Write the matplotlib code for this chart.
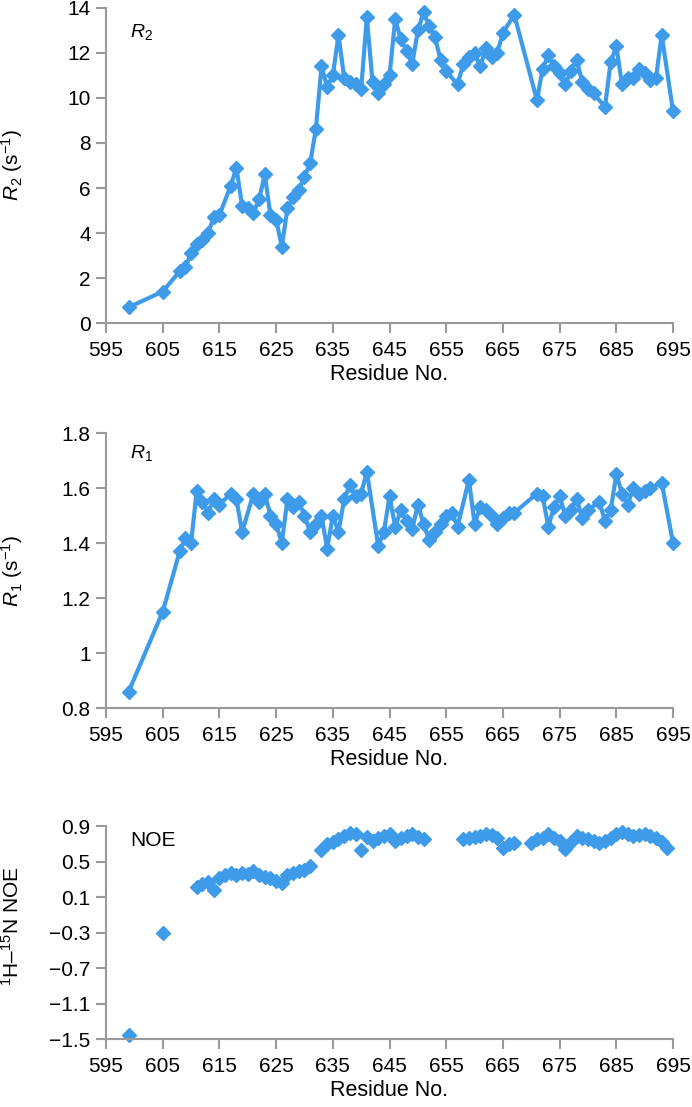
import matplotlib
matplotlib.use('Agg')
import matplotlib.pyplot as plt

# R2 data (residue, s^-1)
r2_res = [599, 605, 608, 609, 610, 611, 612, 613, 614, 615, 617, 618, 619, 620, 621,
          622, 623, 624, 625, 626, 627, 628, 629, 630, 631, 632, 633, 634, 635, 636,
          637, 638, 639, 640, 641, 642, 643, 644, 645, 646, 647, 648, 649, 650, 651,
          652, 653, 654, 655, 657, 658, 659, 660, 661, 662, 663, 664, 665, 667, 671,
          672, 673, 674, 675, 676, 677, 678, 679, 680, 681, 683, 684, 685, 686, 687,
          688, 689, 690, 691, 692, 693, 695]
r2_val = [0.7, 1.4, 2.3, 2.5, 3.1, 3.5, 3.7, 4.0, 4.7, 4.8, 6.1, 6.9, 5.2, 5.1, 4.9,
          5.5, 6.6, 4.8, 4.6, 3.4, 5.1, 5.6, 5.9, 6.5, 7.1, 8.6, 11.4, 10.5, 11.0, 12.8,
          10.9, 10.7, 10.6, 10.4, 13.6, 10.7, 10.2, 10.6, 11.0, 13.5, 12.6, 12.1, 11.5, 13.0, 13.8,
          13.2, 12.7, 11.7, 11.2, 10.6, 11.5, 11.8, 12.0, 11.4, 12.2, 11.8, 12.0, 12.9, 13.7, 9.9,
          11.3, 11.9, 11.4, 11.1, 10.6, 11.2, 11.7, 10.7, 10.4, 10.2, 9.6, 11.6, 12.3, 10.6, 10.9,
          10.9, 11.3, 11.1, 10.8, 10.9, 12.8, 9.4]

# R1 data
r1_res = [599, 605, 608, 609, 610, 611, 612, 613, 614, 615, 617, 618, 619, 621, 622,
          623, 624, 625, 626, 627, 628, 629, 630, 631, 632, 633, 634, 635, 636, 637,
          638, 639, 640, 641, 643, 644, 645, 646, 647, 648, 649, 650, 651, 652, 653,
          654, 655, 656, 657, 659, 660, 661, 662, 663, 664, 665, 666, 667, 671, 672,
          673, 674, 675, 676, 677, 678, 679, 680, 682, 683, 684, 685, 686, 687, 688,
          689, 690, 691, 693, 695]
r1_val = [0.86, 1.15, 1.37, 1.42, 1.40, 1.59, 1.55, 1.51, 1.56, 1.54, 1.58, 1.56, 1.44, 1.58, 1.55,
          1.58, 1.50, 1.47, 1.40, 1.56, 1.53, 1.55, 1.50, 1.44, 1.47, 1.50, 1.38, 1.50, 1.44, 1.56,
          1.61, 1.57, 1.58, 1.66, 1.39, 1.44, 1.57, 1.46, 1.52, 1.48, 1.45, 1.54, 1.47, 1.41, 1.44,
          1.47, 1.50, 1.51, 1.46, 1.63, 1.47, 1.53, 1.52, 1.50, 1.47, 1.49, 1.51, 1.51, 1.58, 1.57,
          1.46, 1.53, 1.57, 1.50, 1.52, 1.56, 1.49, 1.52, 1.55, 1.48, 1.52, 1.65, 1.58, 1.54, 1.60,
          1.58, 1.59, 1.60, 1.62, 1.40]

# heteronuclear NOE data
noe_res = [599, 605, 611, 612, 613, 614, 615, 616, 617, 618, 619, 620, 621, 622, 623,
           624, 625, 626, 627, 628, 629, 630, 631, 633, 634, 635, 636, 637, 638, 639,
           640, 641, 642, 643, 644, 645, 646, 647, 648, 649, 650, 651, 658, 659, 660,
           661, 662, 663, 664, 665, 666, 667, 670, 671, 672, 673, 674, 675, 676, 677,
           678, 679, 680, 681, 682, 683, 684, 685, 686, 687, 688, 689, 690, 691, 692,
           693, 694]
noe_val = [-1.45, -0.31, 0.21, 0.25, 0.27, 0.18, 0.31, 0.35, 0.37, 0.35, 0.37, 0.36, 0.39, 0.35, 0.33,
           0.31, 0.28, 0.26, 0.35, 0.37, 0.39, 0.41, 0.45, 0.63, 0.70, 0.72, 0.75, 0.79, 0.82, 0.81,
           0.63, 0.78, 0.73, 0.76, 0.79, 0.81, 0.73, 0.77, 0.79, 0.81, 0.78, 0.75, 0.75, 0.77, 0.78,
           0.79, 0.81, 0.80, 0.77, 0.65, 0.70, 0.71, 0.71, 0.75, 0.77, 0.81, 0.77, 0.73, 0.64, 0.72,
           0.79, 0.77, 0.75, 0.73, 0.71, 0.73, 0.77, 0.81, 0.83, 0.81, 0.79, 0.80, 0.81, 0.79, 0.77,
           0.72, 0.65]

x_ticks = [595, 605, 615, 625, 635, 645, 655, 665, 675, 685, 695]
r2_ticks = [0, 2, 4, 6, 8, 10, 12, 14]
r1_ticks = [0.8, 1.0, 1.2, 1.4, 1.6, 1.8]
r1_labels = ['0.8', '1', '1.2', '1.4', '1.6', '1.8']
noe_ticks = [0.9, 0.5, 0.1, -0.3, -0.7, -1.1, -1.5]
noe_labels = ['0.9', '0.5', '0.1', '\u22120.3', '\u22120.7', '\u22121.1', '\u22121.5']

blue = '#3d9be9'
grey = '#9a9a9a'

plt.rcParams['font.family'] = ['Liberation Sans', 'DejaVu Sans']
plt.rcParams['mathtext.fontset'] = 'custom'
plt.rcParams['mathtext.rm'] = 'Liberation Sans'
plt.rcParams['mathtext.it'] = 'Liberation Sans:italic'
plt.rcParams['font.size'] = 15


def style_axis(ax, yticks, ylabels, ylim):
    ax.set_xlim(595, 695)
    ax.set_ylim(*ylim)
    ax.set_xticks(x_ticks)
    ax.set_yticks(yticks)
    ax.set_yticklabels(ylabels)
    for side in ['top', 'right']:
        ax.spines[side].set_visible(False)
    for side in ['left', 'bottom']:
        ax.spines[side].set_color(grey)
        ax.spines[side].set_linewidth(1.5)
    ax.tick_params(direction='out', length=7, width=1.5, color=grey, labelsize=15)
    ax.tick_params(axis='x', pad=6)
    ax.tick_params(axis='y', pad=4)
    ax.set_xlabel('Residue No.', fontsize=15.5, labelpad=3)
    ax.yaxis.set_label_coords(-0.143, 0.5)


fig = plt.figure(figsize=(6.92, 11.07), dpi=100)

# R2 panel
ax1 = fig.add_axes([0.1532, 0.7082, 0.8194, 0.2846])
ax1.plot(r2_res, r2_val, color=blue, lw=3, marker='D', ms=7.5, clip_on=False)
style_axis(ax1, r2_ticks, [str(t) for t in r2_ticks], (0, 14))
ax1.set_ylabel(r'$R_2$ (s$^{-1}$)', fontsize=15)
ax1.text(0.042, 0.925, r'$R_2$', transform=ax1.transAxes, fontsize=14, va='center')

# R1 panel
ax2 = fig.add_axes([0.1532, 0.3604, 0.8194, 0.2484])
ax2.plot(r1_res, r1_val, color=blue, lw=3, marker='D', ms=7.5, clip_on=False)
style_axis(ax2, r1_ticks, r1_labels, (0.8, 1.8))
ax2.set_ylabel(r'$R_1$ (s$^{-1}$)', fontsize=15)
ax2.text(0.042, 0.927, r'$R_1$', transform=ax2.transAxes, fontsize=14, va='center')

# NOE panel
ax3 = fig.add_axes([0.1532, 0.0614, 0.8194, 0.1924])
ax3.plot(noe_res, noe_val, color=blue, lw=0, marker='D', ms=7.5, clip_on=False)
style_axis(ax3, noe_ticks, noe_labels, (-1.5, 0.9))
ax3.set_ylabel('$^{1}$H\u2013$^{15}$N NOE', fontsize=15)
ax3.yaxis.set_label_coords(-0.146, 0.53)
ax3.text(0.042, 0.934, 'NOE', transform=ax3.transAxes, fontsize=15, va='center')

fig.savefig('out.png', dpi=100)
